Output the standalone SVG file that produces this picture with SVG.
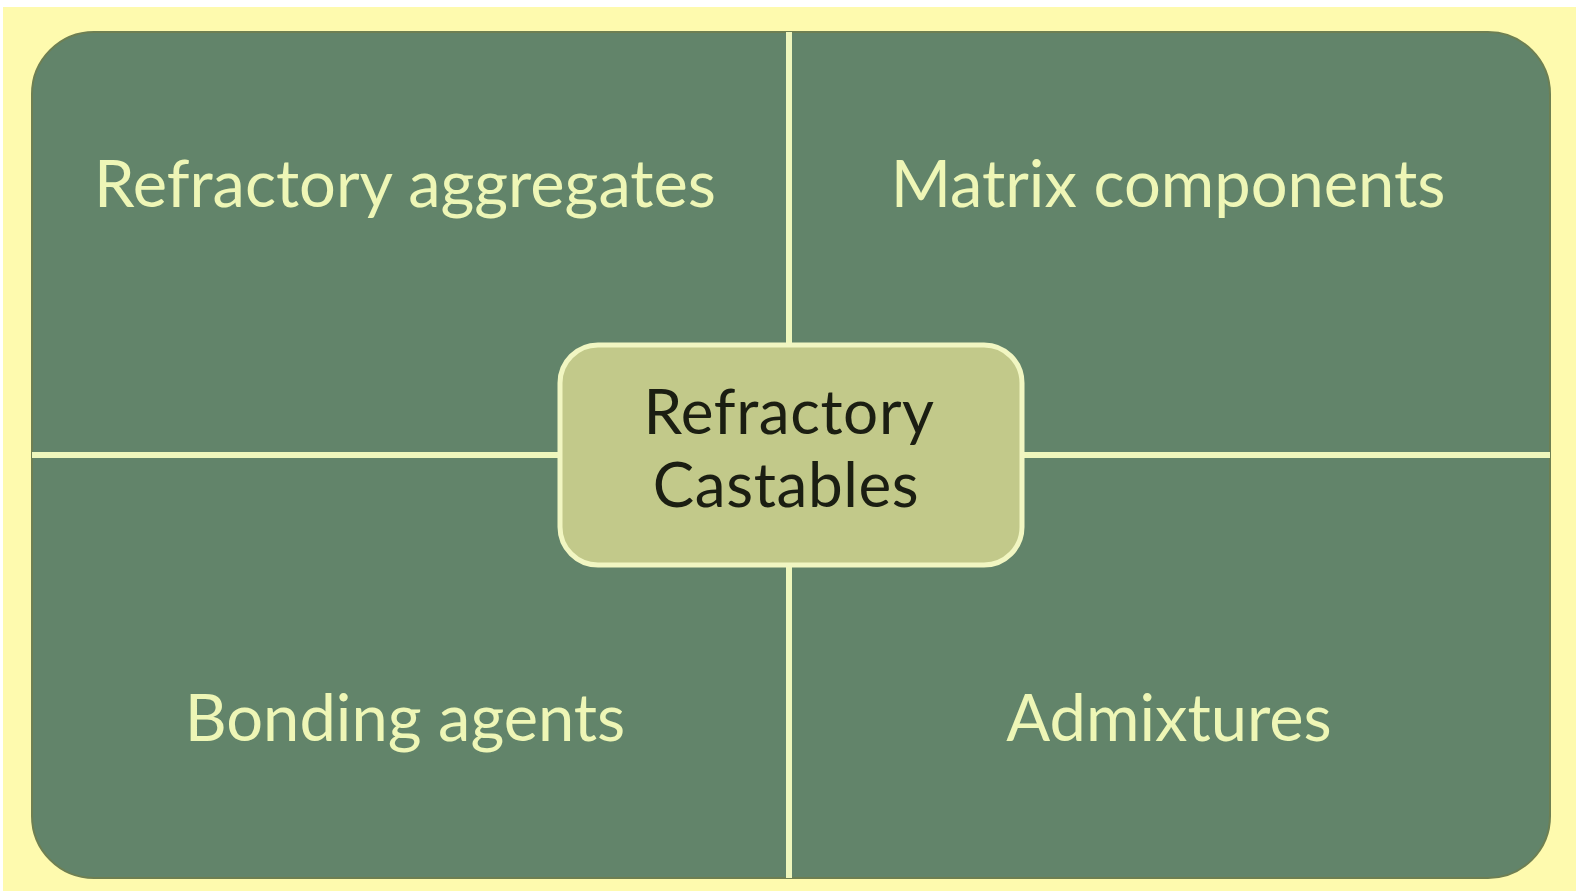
<svg xmlns="http://www.w3.org/2000/svg" width="1576" height="891" viewBox="0 0 1576 891">
<style>
.lbl{font-family:Lato,"Open Sans","Liberation Sans",sans-serif;font-size:65px;fill:#EEF6B6;text-anchor:middle}
.ctr{font-family:Lato,"Open Sans","Liberation Sans",sans-serif;font-size:62px;letter-spacing:0.6px;fill:#1B1E12;text-anchor:middle}
.div{stroke:#EEF6BC;stroke-width:6;fill:none}
</style>
<rect x="0" y="0" width="1576" height="891" fill="#FFFFFF"/>
<rect x="3" y="7" width="1573" height="884" fill="#FEFAAE"/>
<g id="panel">
<rect x="32" y="32" width="1518" height="846" rx="62" ry="62" fill="#62846A" stroke="#6E7F52" stroke-width="2"/>
</g>
<g id="connectors">
<line class="div" x1="789" y1="32" x2="789" y2="878"/>
<line class="div" x1="32" y1="455" x2="1550" y2="455"/>
</g>
<g id="node-aggregates"><text class="lbl" x="405" y="207">Refractory aggregates</text></g>
<g id="node-matrix"><text class="lbl" x="1168" y="207">Matrix components</text></g>
<g id="node-bonding"><text class="lbl" x="405" y="741">Bonding agents</text></g>
<g id="node-admixtures"><text class="lbl" x="1169" y="741">Admixtures</text></g>
<g id="node-center">
<rect x="560" y="345" width="462" height="220" rx="38" ry="38" fill="#C2C98A" stroke="#F1F6C2" stroke-width="5"/>
<text class="ctr" x="789" y="434">Refractory</text>
<text class="ctr" x="786" y="507">Castables</text>
</g>
</svg>
